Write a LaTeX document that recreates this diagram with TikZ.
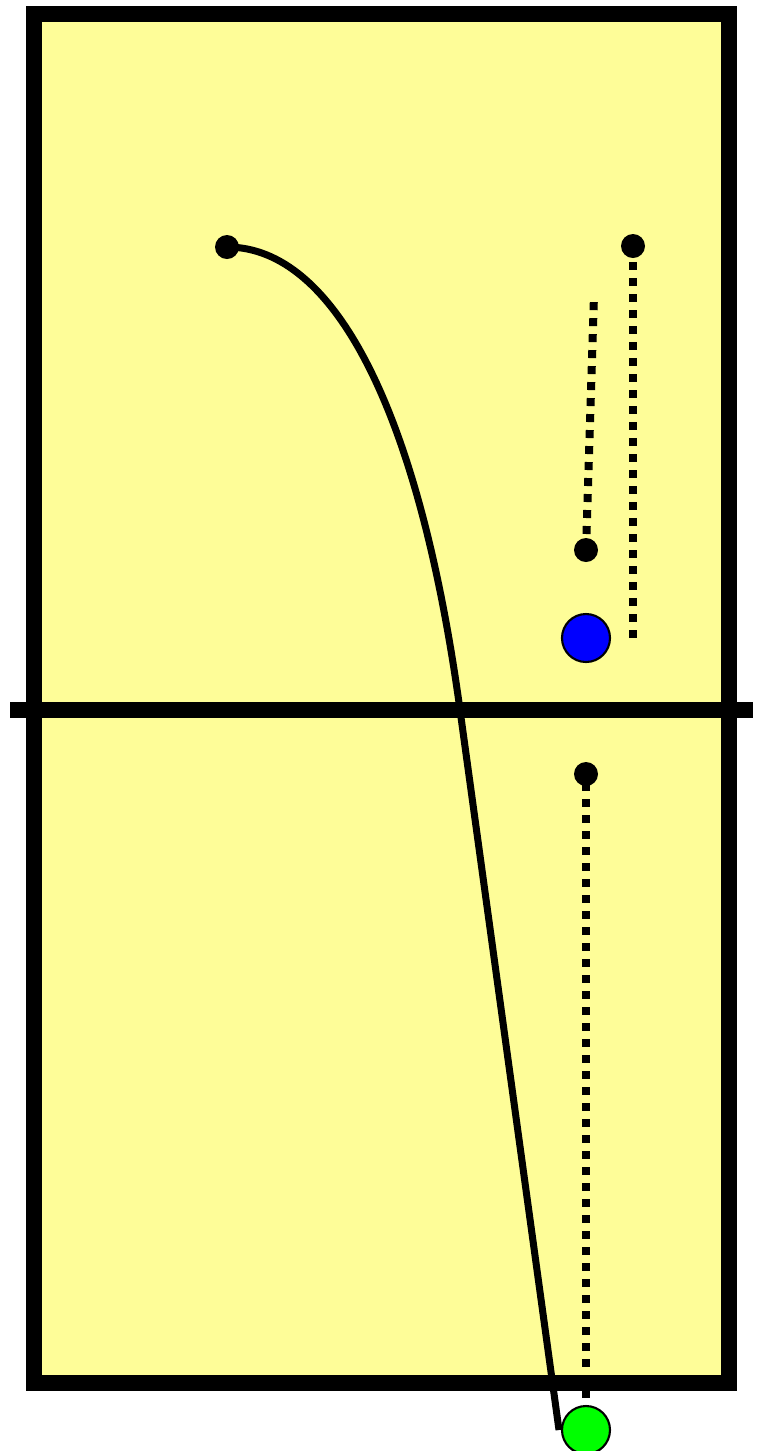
\documentclass[tikz,border=0pt]{standalone}
\usepackage{tikz}
\usetikzlibrary{positioning}
\definecolor{courtyellow}{RGB}{254,253,152}
\definecolor{ballblue}{RGB}{0,0,255}
\definecolor{ballgreen}{RGB}{0,255,0}

\begin{document}
\begin{tikzpicture}[
	court/.style={draw=black, line width=0.16cm, fill=courtyellow},
	netline/.style={draw=black, line width=0.16cm},
	dot/.style={circle, fill=black, inner sep=0pt, minimum size=0.24cm},
	ball/.style={circle, draw=black, line width=0.6pt, inner sep=0pt, minimum size=0.48cm},
	run/.style={draw=black, line width=0.07cm},
	pass/.style={draw=black, line width=0.08cm, dash pattern=on 0.08cm off 0.08cm}
	]
	\useasboundingbox (0,0) rectangle (7.6,-14.51);
	\draw[court] (0.34,-0.14) rectangle (7.29,-13.83);
	\draw[netline] (0.10,-7.10) -- (7.53,-7.10);

	\node[dot] (start) at (2.27,-2.47) {};
	\node[dot] (farend) at (6.33,-2.46) {};
	\node[dot] (setter) at (5.86,-5.50) {};
	\node[dot] (server) at (5.86,-7.74) {};
	\node[ball, fill=ballblue] (blue) at (5.86,-6.38) {};
	\coordinate (runend) at (5.59,-14.30);
	\coordinate (setend) at (5.94,-2.95);
	\coordinate (farstop) at (6.33,-6.38);
	\coordinate (servestop) at (5.86,-13.98);

	% long run across the net
	\draw[run] (start.center) .. controls (3.34,-2.47) and (4.19,-4.10) .. (4.60,-7.10) -- (runend);

	\draw[pass] (farend.center) -- (farstop);
	\draw[pass] (setter.center) -- (setend);
	\draw[pass, dash phase=0.07cm] (server.center) -- (servestop);

	\node[ball, fill=ballgreen] (green) at (5.86,-14.30) {};
\end{tikzpicture}
\end{document}
